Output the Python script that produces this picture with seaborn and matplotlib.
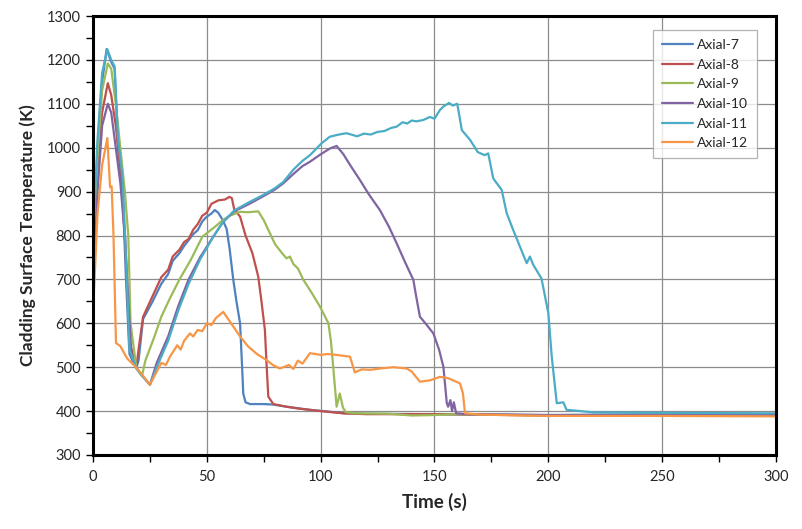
import numpy as np
import pandas as pd
import matplotlib
matplotlib.use("Agg")
import matplotlib.pyplot as plt
import seaborn as sns
from matplotlib.ticker import MultipleLocator

series_names = ["Axial-7", "Axial-8", "Axial-9", "Axial-10", "Axial-11", "Axial-12"]
colors = ["#4F81BD", "#C0504D", "#9BBB59", "#8064A2", "#4BACC6", "#F79646"]

ax7_t = [0, 2, 4, 6, 8, 9.5, 11, 13, 14.5, 16, 19, 20, 22, 26, 30, 33, 35, 38, 40, 44, 46, 48, 50, 52, 53.5, 55, 57, 58.7, 60, 61.6, 63, 64.6, 65.5, 66, 67, 69, 75, 79, 85, 95, 105, 110, 120, 150, 200, 250, 300]
ax7_T = [760, 1000, 1150, 1225, 1195, 1180, 1000, 900, 700, 530, 498, 515, 610, 648, 690, 712, 742, 760, 776, 803, 812, 832, 843, 850, 858, 852, 835, 815, 770, 700, 650, 600, 500, 440, 420, 416, 416, 415, 410, 403, 398, 395, 394, 393, 391, 392, 391]

ax8_t = [0, 2, 4, 6.5, 8, 10, 12, 14, 16, 19, 20, 22, 26, 30, 33, 35, 38, 40, 42, 44, 46, 48, 50, 52, 55, 58, 59.9, 61, 62, 64.6, 67, 70, 72.6, 74, 75.5, 76.3, 77, 79.2, 85, 90, 100, 110, 120, 150, 200, 250, 300]
ax8_T = [740, 950, 1080, 1147, 1120, 1050, 950, 800, 560, 498, 540, 615, 660, 705, 722, 752, 768, 785, 792, 813, 826, 845, 852, 872, 880, 882, 888, 885, 860, 843, 800, 760, 706, 650, 585, 500, 433, 416, 410, 406, 400, 395, 393, 393, 390, 391, 390]

ax9_t = [0, 2, 4, 6.5, 8, 10, 12, 14, 15.5, 16.5, 19, 21.5, 23, 27, 30, 33.8, 38, 43, 48, 53.6, 57, 60, 64.6, 68, 72.6, 75, 77.7, 80, 81.5, 83, 85, 86.5, 88, 90, 92.4, 96, 99.7, 103.4, 104.5, 105.5, 107, 108.4, 109.8, 111, 115, 130, 140, 150, 160, 200, 250, 300]
ax9_T = [720, 980, 1130, 1192, 1180, 1100, 1000, 900, 800, 600, 500, 480, 515, 570, 615, 657, 700, 745, 797, 820, 835, 845, 854, 853, 855, 835, 805, 780, 770, 760, 748, 752, 735, 725, 699, 670, 638, 600, 560, 501, 410, 440, 408, 398, 395, 394, 390, 391, 393, 390, 391, 391]

ax10_t = [0, 2, 4, 6.5, 8, 10, 12, 14, 15.5, 17, 19, 22, 25, 28, 33, 37.5, 42, 47, 52.8, 57, 62, 69, 75, 80, 83.6, 88, 92, 95.3, 100, 104, 107, 110, 113, 117.3, 121, 126, 130, 133.4, 137, 140.7, 142, 143.6, 146, 149.5, 152, 153.9, 155.4, 156, 157, 157.7, 158.5, 159.5, 165, 200, 250, 300]
ax10_T = [700, 900, 1050, 1100, 1080, 1000, 920, 800, 650, 520, 498, 478, 460, 510, 570, 640, 700, 750, 797, 830, 855, 873, 890, 905, 919, 940, 958, 968, 985, 998, 1004, 985, 960, 926, 895, 858, 820, 782, 740, 699, 660, 615, 600, 577, 540, 501, 418, 410, 425, 400, 420, 395, 393, 391, 392, 391]

ax11_t = [0, 2, 4, 6.3, 8, 9.5, 11, 13, 14.5, 16, 19, 22, 25, 28, 33, 37.5, 42, 47, 52.8, 57, 62, 69, 75, 80, 83.6, 88, 92, 95.3, 100.4, 104, 108, 111.4, 116, 119, 122, 125, 128, 131, 133.4, 136, 138, 140, 142, 145, 148, 150, 152.4, 154, 156.4, 158, 160, 162, 165.6, 169, 172, 173.6, 175.8, 179.5, 181.7, 184, 187.5, 190.5, 191.9, 193.4, 197, 200, 201.5, 203.7, 206.6, 208, 214, 220, 250, 300]
ax11_T = [780, 1020, 1170, 1224, 1200, 1185, 1020, 930, 750, 540, 498, 478, 460, 500, 560, 630, 690, 745, 797, 830, 857, 877, 893, 908, 922, 950, 970, 983, 1010, 1025, 1030, 1033, 1026, 1032, 1030, 1036, 1038, 1045, 1048, 1058, 1055, 1062, 1060, 1063, 1070, 1066, 1086, 1094, 1102, 1096, 1100, 1040, 1018, 990, 983, 987, 930, 904, 851, 820, 775, 737, 752, 733, 702, 623, 524, 418, 420, 403, 400, 397, 396, 395]

ax12_t = [0, 2, 4, 6.3, 7.5, 8.2, 9, 10.1, 12, 15, 19.2, 22, 25, 28, 30, 32, 33.8, 37, 38.5, 40, 42.6, 44, 46, 48, 50, 52, 54, 57.2, 60, 64.6, 68, 72, 76.3, 79, 82.1, 86, 88, 90, 92, 95.3, 100, 103, 107, 112.9, 115, 118, 121.7, 126, 132, 137.8, 140, 143.6, 148, 152.4, 156, 161.2, 162.5, 163.4, 170, 200, 250, 300]
ax12_T = [625, 850, 960, 1022, 910, 912, 800, 555, 548, 520, 498, 480, 460, 490, 510, 505, 524, 550, 540, 560, 577, 570, 585, 582, 600, 596, 612, 626, 605, 570, 548, 530, 516, 505, 497, 505, 496, 515, 508, 532, 528, 530, 528, 524, 488, 495, 494, 497, 500, 497, 490, 467, 470, 478, 475, 463, 440, 395, 392, 389, 389, 388]

x_ticks = [0, 50, 100, 150, 200, 250, 300]
y_ticks = [300, 400, 500, 600, 700, 800, 900, 1000, 1100, 1200, 1300]

all_t = [ax7_t, ax8_t, ax9_t, ax10_t, ax11_t, ax12_t]
all_T = [ax7_T, ax8_T, ax9_T, ax10_T, ax11_T, ax12_T]
frames = []
for name, tt, TT in zip(series_names, all_t, all_T):
    frames.append(pd.DataFrame({"t": tt, "T": TT, "series": name}))
df = pd.concat(frames, ignore_index=True)

sns.set_style("white")
plt.rcParams["font.family"] = ["Lato", "DejaVu Sans"]

fig = plt.figure(figsize=(8.03, 5.29), dpi=100)
ax = fig.add_axes([93/803, 1-455/529, (776-93)/803, (455-16)/529])

sns.lineplot(data=df, x="t", y="T", hue="series", hue_order=series_names,
             palette=colors, estimator=None, sort=False, linewidth=1.6, ax=ax)

ax.set_xlim(0, 300)
ax.set_ylim(300, 1300)
ax.set_xticks(x_ticks)
ax.set_yticks(y_ticks)
ax.xaxis.set_minor_locator(MultipleLocator(25))
ax.yaxis.set_minor_locator(MultipleLocator(50))
ax.grid(True, which="major", color="#8c8c8c", linewidth=0.9)
ax.set_axisbelow(True)
ax.tick_params(axis="both", which="both", direction="out", length=5, width=1, color="black",
               labelsize=10.5, bottom=True, left=True)
ax.tick_params(axis="x", pad=6)
for s in ax.spines.values():
    s.set_visible(True)
    s.set_color("black")
    s.set_linewidth(2.2)

ax.set_xlabel("Time (s)", fontsize=13.5, fontweight="bold", labelpad=6)
ax.set_ylabel("Cladding Surface Temperature (K)", fontsize=12.5, fontweight="bold", labelpad=8)

leg = ax.legend(loc="upper right", bbox_to_anchor=(757/803, 1-30/529), bbox_transform=fig.transFigure,
                borderaxespad=0, fontsize=10, frameon=True, fancybox=False, edgecolor="#a0a0a0",
                handlelength=2.2, handletextpad=0.3, labelspacing=0.55, borderpad=0.65)
leg.get_frame().set_linewidth(0.9)
leg.set_title(None)

fig.savefig("out.png", dpi=100)
